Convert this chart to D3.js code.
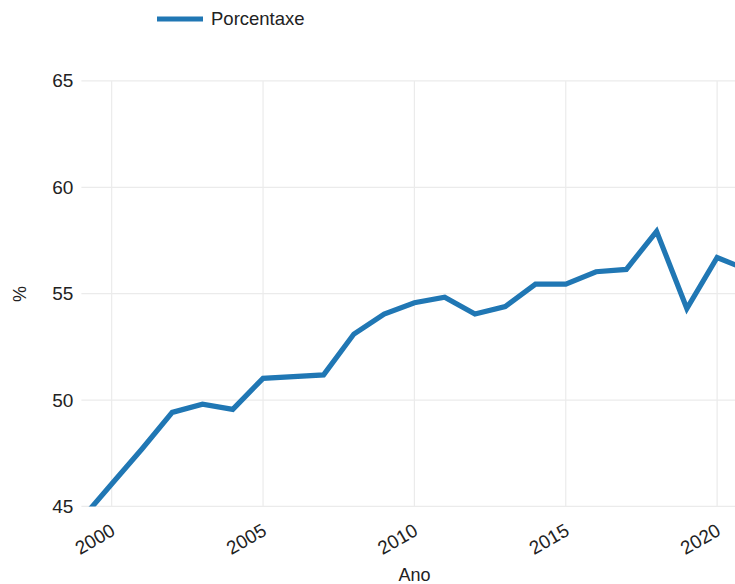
<!DOCTYPE html>
<html>
<head>
<meta charset="utf-8">
<script src="https://cdn.jsdelivr.net/npm/d3@7"></script>
<style>
  html, body { margin: 0; padding: 0; background: #fff; overflow: hidden; }
  svg { display: block; font-family: "Liberation Sans", Arial, sans-serif; }
</style>
</head>
<body>
<svg id="chart" width="780" height="584"></svg>
<script>
const years = [1999, 2000, 2001, 2002, 2003, 2004, 2005, 2006, 2007, 2008, 2009, 2010,
               2011, 2012, 2013, 2014, 2015, 2016, 2017, 2018, 2019, 2020, 2021];
const values = [44.4, 46.05, 47.7, 49.42, 49.8, 49.56, 51.02, 51.1, 51.18, 53.1, 54.04, 54.57,
                54.83, 54.04, 54.39, 55.45, 55.45, 56.03, 56.14, 57.93, 54.3, 56.7, 56.12];
const xTicks = [2000, 2005, 2010, 2015, 2020];
const yTicks = [45, 50, 55, 60, 65];
const seriesName = "Porcentaxe";
const xTitle = "Ano";
const yTitle = "%";

const data = years.map((y, i) => ({ year: y, value: values[i] }));

const svg = d3.select("#chart");
const plot = { left: 81.4, right: 747.4, top: 80.9, bottom: 506.4 };

const x = d3.scaleLinear().domain([1999, 2021]).range([plot.left, plot.right]);
const y = d3.scaleLinear().domain([45, 65]).range([plot.bottom, plot.top]);

const color = "#2077b4";
const textColor = "#222";

svg.append("defs").append("clipPath").attr("id", "clip")
  .append("rect")
  .attr("x", plot.left).attr("y", plot.top)
  .attr("width", plot.right - plot.left).attr("height", plot.bottom - plot.top);

// gridlines
const grid = svg.append("g");
grid.selectAll("line.v").data(xTicks).join("line")
  .attr("x1", d => x(d)).attr("x2", d => x(d))
  .attr("y1", plot.top).attr("y2", plot.bottom)
  .attr("stroke", "#ebebeb").attr("stroke-width", 1.2);
grid.selectAll("line.h").data(yTicks).join("line")
  .attr("x1", plot.left).attr("x2", plot.right)
  .attr("y1", d => y(d)).attr("y2", d => y(d))
  .attr("stroke", "#ebebeb").attr("stroke-width", 1.2);

// y axis
const yAxis = d3.axisLeft(y).tickValues(yTicks).tickSize(0).tickPadding(8).tickFormat(d3.format("d"));
const yg = svg.append("g").attr("transform", `translate(${plot.left},0)`).call(yAxis);
yg.select(".domain").remove();
yg.selectAll("text").attr("font-size", 19).attr("fill", textColor).attr("font-family", "Liberation Sans, Arial, sans-serif");

// x axis
const xAxis = d3.axisBottom(x).tickValues(xTicks).tickSize(0).tickFormat(d3.format("d"));
const xg = svg.append("g").attr("transform", `translate(0,${plot.bottom})`).call(xAxis);
xg.select(".domain").remove();
xg.selectAll("text")
  .attr("font-size", 19).attr("fill", textColor).attr("font-family", "Liberation Sans, Arial, sans-serif")
  .attr("text-anchor", "end")
  .attr("dy", "0.35em")
  .attr("transform", "translate(1,22) rotate(-30)")
  .attr("y", 0).attr("x", 0);

// axis titles
svg.append("text").attr("x", (plot.left + plot.right) / 2).attr("y", 581)
  .attr("text-anchor", "middle").attr("font-size", 18).attr("fill", textColor).text(xTitle);
svg.append("text").attr("transform", "translate(26,294) rotate(-90)")
  .attr("text-anchor", "middle").attr("font-size", 18).attr("fill", textColor).text(yTitle);

// line
const line = d3.line().x(d => x(d.year)).y(d => y(d.value));
svg.append("path").datum(data)
  .attr("clip-path", "url(#clip)")
  .attr("d", line)
  .attr("fill", "none").attr("stroke", color).attr("stroke-width", 5.2)
  .attr("stroke-linejoin", "miter");

// legend
const lg = svg.append("g").attr("transform", "translate(157,19)");
lg.append("line").attr("x1", 0).attr("x2", 46).attr("y1", 0).attr("y2", 0)
  .attr("stroke", color).attr("stroke-width", 5);
lg.append("text").attr("x", 54).attr("y", 0).attr("dy", "0.35em")
  .attr("font-size", 18.5).attr("fill", textColor).text(seriesName);
</script>
</body>
</html>
